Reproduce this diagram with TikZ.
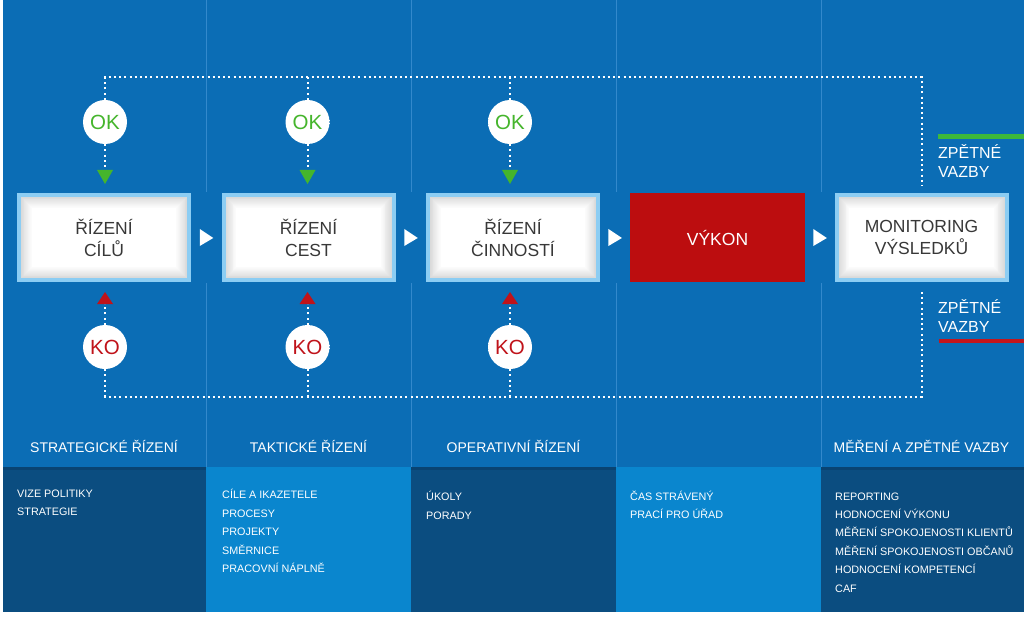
\documentclass[tikz,border=0pt]{standalone}
\usepackage{fontspec}
\setmainfont{Liberation Sans}
\usetikzlibrary{calc}
\definecolor{bgblue}{HTML}{0B6DB5}
\definecolor{darkpanel}{HTML}{0B4D80}
\definecolor{darkstrip}{HTML}{094372}
\definecolor{lightpanel}{HTML}{0A86CE}
\definecolor{divider}{HTML}{3389CC}
\definecolor{boxborder}{HTML}{8CCDF3}
\definecolor{boxtext}{HTML}{383838}
\definecolor{vykonred}{HTML}{BC0D0F}
\definecolor{okgreen}{HTML}{45B52C}
\definecolor{kored}{HTML}{C0131A}
\definecolor{linegreen}{HTML}{3DB83A}
\definecolor{linered}{HTML}{C4161C}
\pgfdeclareradialshading{ballshade}{\pgfpoint{0bp}{0bp}}{color(0bp)=(white); color(40bp)=(white); color(50bp)=(black!25); color(100bp)=(black!25)}
\begin{document}
\begin{tikzpicture}[x=1pt,y=-1pt,
  stagebox/.style={rectangle, draw=boxborder, line width=4pt, minimum width=170pt,
    minimum height=85pt, inner sep=0pt, font=\fontsize{17.5}{22}\selectfont,
    text=boxtext, align=center,
    path picture={\foreach \i in {0,...,14}{\pgfmathtruncatemacro\w{\i*100/14}
      \fill[white!\w!black!17] ([shift={(\i*0.9pt,-\i*0.9pt)}]path picture bounding box.north west)
        rectangle ([shift={(-\i*0.9pt,\i*0.9pt)}]path picture bounding box.south east);}}},
  redbox/.style={rectangle, fill=vykonred, minimum width=175pt, minimum height=89pt,
    inner sep=0pt, font=\fontsize{17.5}{22}\selectfont, text=white},
  ball/.style={circle, shading=ballshade, minimum size=44pt, inner sep=0pt,
    font=\fontsize{20.5}{24}\selectfont},
  dotline/.style={draw=white, line width=2pt, dash pattern=on 2pt off 3.2pt},
  coltitle/.style={anchor=base, text=white, font=\fontsize{14}{16}\selectfont, inner sep=0pt},
  listtext/.style={anchor=base west, text=white, font=\fontsize{10.8}{13}\selectfont, inner sep=0pt},
  sidelabel/.style={anchor=base west, text=white, font=\fontsize{16}{19}\selectfont, inner sep=0pt},
  divline/.style={draw=divider, line width=1pt}
]
\useasboundingbox (0,0) rectangle (1024,620);
\fill[white] (0,0) rectangle (1024,620);
\fill[bgblue] (3,0) rectangle (1024,612);
% column dividers
\foreach \x in {206,411,616,821}{
  \draw[divline] (\x,0) -- (\x,192);
  \draw[divline] (\x,283) -- (\x,467);
}
% bottom panels
\fill[darkpanel] (3,467) rectangle (206,612);
\fill[lightpanel] (206,467) rectangle (411,612);
\fill[darkpanel] (411,467) rectangle (616,612);
\fill[lightpanel] (616,467) rectangle (821,612);
\fill[darkpanel] (821,467) rectangle (1024,612);
\fill[darkstrip] (3,467) rectangle (206,470);
\fill[darkstrip] (411,467) rectangle (616,470);
\fill[darkstrip] (821,467) rectangle (1024,470);

% stage boxes
\node[stagebox] (box1) at (104,237.5) {ŘÍZENÍ\\CÍLŮ};
\node[stagebox] (box2) at (308.5,237.5) {ŘÍZENÍ\\CEST};
\node[stagebox] (box3) at (513,237.5) {ŘÍZENÍ\\ČINNOSTÍ};
\node[redbox] (box4) at (717.5,237.5) {VÝKON};
\node[stagebox] (box5) at (921.5,237.5) {MONITORING\\VÝSLEDKŮ};

% flow triangles between boxes
\path (box1) -- coordinate[midway] (t12) (box2);
\path (box2) -- coordinate[midway] (t23) (box3);
\path (box3) -- coordinate[midway] (t34) (box4);
\path (box4) -- coordinate[midway] (t45) (box5);
\foreach \t in {t12,t23,t34,t45}{
  \fill[white] ($(\t)+(-6.5,-8.5)$) -- ($(\t)+(7,0.5)$) -- ($(\t)+(-6.5,8.5)$) -- cycle;
}

% OK / KO circles
\node[ball, text=okgreen] (ok1) at (105,122) {OK};
\node[ball, text=okgreen] (ok2) at (307.5,122) {OK};
\node[ball, text=okgreen] (ok3) at (510,122) {OK};
\node[ball, text=kored] (ko1) at (105,347) {KO};
\node[ball, text=kored] (ko2) at (307.5,347) {KO};
\node[ball, text=kored] (ko3) at (510,347) {KO};

% coordinates for the feedback loops
\coordinate (tl) at (105,77.5);
\coordinate (tr) at (921.5,77.5);
\coordinate (trd) at (921.5,186);
\coordinate (bl) at (105,396.5);
\coordinate (br) at (921.5,396.5);
\coordinate (bru) at (921.5,289);

% green and red triangle tips
\foreach \n/\x in {1/105,2/307.5,3/510}{
  \coordinate (g\n) at (\x,184);
  \coordinate (r\n) at (\x,292);
  \fill[okgreen] ($(g\n)+(-8,-14)$) -- ($(g\n)+(8,-14)$) -- (g\n) -- cycle;
  \fill[kored] ($(r\n)+(-8,12)$) -- ($(r\n)+(8,12)$) -- (r\n) -- cycle;
}

% dotted feedback lines
\draw[dotline] (ok1.north) -- (tl) -- (tr) -- (trd);
\draw[dotline] (ok2.north) -- (ok2 |- tl);
\draw[dotline] (ok3.north) -- (ok3 |- tl);
\draw[dotline] (ok1.south) -- ($(g1)+(0,-14)$);
\draw[dotline] (ok2.south) -- ($(g2)+(0,-14)$);
\draw[dotline] (ok3.south) -- ($(g3)+(0,-14)$);
\draw[dotline] (ko1.south) -- (bl) -- (br) -- (bru);
\draw[dotline] (ko2.south) -- (ko2 |- bl);
\draw[dotline] (ko3.south) -- (ko3 |- bl);
\draw[dotline] (ko1.north) -- ($(r1)+(0,12)$);
\draw[dotline] (ko2.north) -- ($(r2)+(0,12)$);
\draw[dotline] (ko3.north) -- ($(r3)+(0,12)$);

% side labels
\draw[linegreen, line width=4.5pt] (938,136.3) -- (1024,136.3);
\node[sidelabel] (zv1a) at (938,159) {ZPĚTNÉ};
\node[sidelabel] (zv1b) at (938,177.5) {VAZBY};
\node[sidelabel] (zv2a) at (938,313.5) {ZPĚTNÉ};
\node[sidelabel] (zv2b) at (938,332) {VAZBY};
\draw[linered, line width=4.5pt] (939,341) -- (1024,341);

% column titles
\node[coltitle] (ct1) at (104,452) {STRATEGICKÉ ŘÍZENÍ};
\node[coltitle] (ct2) at (308.5,452) {TAKTICKÉ ŘÍZENÍ};
\node[coltitle] (ct3) at (513.5,452) {OPERATIVNÍ ŘÍZENÍ};
\node[coltitle] (ct5) at (921.5,452) {MĚŘENÍ A ZPĚTNÉ VAZBY};

% lists
\foreach \t [count=\i from 0] in {VIZE POLITIKY,STRATEGIE}{
  \node[listtext] (la\i) at (17,497+\i*18.6) {\t};}
\foreach \t [count=\i from 0] in {CÍLE A IKAZETELE,PROCESY,PROJEKTY,SMĚRNICE,PRACOVNÍ NÁPLNĚ}{
  \node[listtext] (lb\i) at (222,498.5+\i*18.6) {\t};}
\foreach \t [count=\i from 0] in {ÚKOLY,PORADY}{
  \node[listtext] (lc\i) at (426,500.5+\i*18.6) {\t};}
\foreach \t [count=\i from 0] in {ČAS STRÁVENÝ,PRACÍ PRO ÚŘAD}{
  \node[listtext] (ld\i) at (630,500+\i*18.6) {\t};}
\foreach \t [count=\i from 0] in {REPORTING,HODNOCENÍ VÝKONU,MĚŘENÍ SPOKOJENOSTI KLIENTŮ,MĚŘENÍ SPOKOJENOSTI OBČANŮ,HODNOCENÍ KOMPETENCÍ,CAF}{
  \node[listtext] (le\i) at (835,500+\i*18.4) {\t};}
\end{tikzpicture}
\end{document}
